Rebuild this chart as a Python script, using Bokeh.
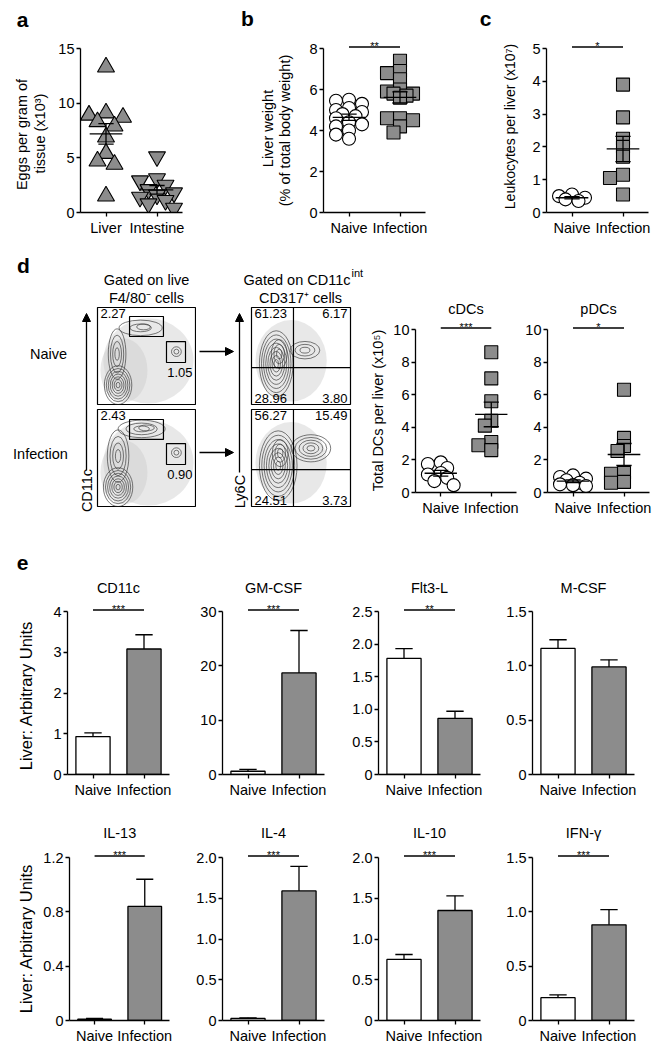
import math
from bokeh.plotting import figure
from bokeh.models import Range1d, FixedTicker, Label, Arrow, NormalHead, Span
from bokeh.layouts import row, column
from bokeh.embed import file_html
from bokeh.resources import INLINE

# =========================== data ===========================
GROUPS = ["Naive", "Infection"]

# (a) eggs per gram of tissue (x10^3)
A_CATS = ["Liver", "Intestine"]
A_LIVER = [13.3, 9.1, 8.9, 8.7, 8.3, 7.9, 6.9, 5.4, 4.7, 4.4, 1.5]
A_INTESTINE = [5.1, 3.1, 2.9, 2.5, 2.1, 1.8, 1.6, 1.4, 1.1, 0.8, 0.4]
A_YTICKS = [0, 5, 10, 15]
A_YLABELS = ["0", "5", "10", "15"]

# (b) liver weight (% of total body weight)
B_NAIVE = [5.5, 5.45, 5.3, 5.1, 5.0, 4.9, 4.8, 4.7, 4.6, 4.4, 4.3, 4.2, 4.0, 3.8, 3.6]
B_INFECTION = [7.4, 6.9, 6.8, 6.5, 6.0, 5.9, 5.8, 5.8, 5.7, 5.6, 4.6, 4.6, 4.5, 4.2, 3.9]
B_YTICKS = [0, 2, 4, 6, 8]
B_YLABELS = ["0", "2", "4", "6", "8"]

# (c) leukocytes per liver (x10^7)
C_NAIVE = [0.55, 0.5, 0.45, 0.4, 0.35]
C_INFECTION = [3.9, 2.9, 2.25, 2.0, 1.7, 1.15, 1.05, 0.55]
C_YTICKS = [0, 1, 2, 3, 4, 5]
C_YLABELS = ["0", "1", "2", "3", "4", "5"]

# (d) total DCs per liver (x10^5)
CDC_NAIVE = [1.85, 1.75, 1.5, 1.2, 1.1, 0.9, 0.7, 0.45]
CDC_INFECTION = [8.6, 7.0, 5.6, 4.4, 4.1, 3.1, 2.9, 2.6]
PDC_NAIVE = [1.05, 0.95, 0.85, 0.75, 0.6, 0.5, 0.45, 0.4]
PDC_INFECTION = [6.3, 3.35, 2.85, 2.55, 1.2, 1.15, 0.65, 0.6]
DC_YTICKS = [0, 2, 4, 6, 8, 10]
DC_YLABELS = ["0", "2", "4", "6", "8", "10"]

# (d) flow cytometry gate frequencies (%)
GATE_NAIVE = ["2.27", "1.05"]
GATE_INFECTION = ["2.43", "0.90"]
QUAD_NAIVE = ["61.23", "6.17", "28.96", "3.80"]        # UL, UR, LL, LR
QUAD_INFECTION = ["56.27", "15.49", "24.51", "3.73"]
# contour populations on a 0-100 scale: (centre x, centre y, half-width, half-height, levels)
POP_CD317_NAIVE = [(21, 20, 14, 20, 7), (20, 52, 9, 26, 4), (44, 79, 22, 8, 2),
                   (47, 80, 7, 3, 1), (80.5, 54.5, 5, 5, 2)]
POP_CD317_INFECTION = [(21, 20, 15, 20, 7), (21, 52, 11, 27, 4), (45, 80, 24, 9, 3),
                       (50, 81, 8, 3, 1), (80.5, 55.5, 5, 5, 2)]
CLOUD_CD317 = [(52, 45, 46, 44), (27, 35, 24, 33)]
POP_CD11B_NAIVE = [(25, 42, 17, 34, 8), (28, 52, 8, 15, 3), (54, 56, 15, 9, 3)]
POP_CD11B_INFECTION = [(27, 42, 19, 36, 8), (29, 55, 8, 14, 3), (60, 60, 20, 14, 5)]
CLOUD_CD11B = [(40, 45, 36, 42)]
GATES_NAIVE = [(32.7, 70.1, 67.3, 90.7), (70.4, 43.3, 89.8, 64.9)]
GATES_INFECTION = [(32.7, 69.1, 67.3, 89.7), (70.4, 43.3, 89.8, 64.9)]
QUAD_SPLIT = (42.4, 38.1)

# (e) qPCR, liver arbitrary units (mean and SEM)
E_GENES = ["CD11c", "GM-CSF", "Flt3-L", "M-CSF", "IL-13", "IL-4", "IL-10", "IFN-γ"]
E_MEAN_NAIVE = [0.93, 0.6, 1.78, 1.16, 0.01, 0.025, 0.75, 0.21]
E_MEAN_INFECTION = [3.08, 18.7, 0.86, 0.99, 0.84, 1.59, 1.35, 0.88]
E_SEM_NAIVE = [0.09, 0.35, 0.15, 0.08, 0.006, 0.008, 0.06, 0.025]
E_SEM_INFECTION = [0.35, 7.8, 0.11, 0.065, 0.2, 0.3, 0.18, 0.14]
E_SIG = ["***", "***", "**", "", "***", "***", "***", "***"]
E_YTICKS = [[0, 1, 2, 3, 4], [0, 10, 20, 30], [0, 0.5, 1, 1.5, 2, 2.5], [0, 0.5, 1, 1.5],
            [0, 0.4, 0.8, 1.2], [0, 0.5, 1, 1.5, 2], [0, 0.5, 1, 1.5, 2], [0, 0.5, 1, 1.5]]
E_YLABELS = [["0", "1", "2", "3", "4"], ["0", "10", "20", "30"],
             ["0", "0.5", "1.0", "1.5", "2.0", "2.5"], ["0", "0.5", "1.0", "1.5"],
             ["0", "0.4", "0.8", "1.2"], ["0", "0.5", "1.0", "1.5", "2.0"],
             ["0", "0.5", "1.0", "1.5", "2.0"], ["0", "0.5", "1.0", "1.5"]]

# =========================== style / helpers ===========================
FONT = "Liberation Sans"
FS = "14.5px"
GRAY = "#8c8c8c"
LW = 1.3
CAT_PX = 51.0
HALF_PI = math.pi / 2


def new_fig(box, frame, xr, yr, axes=True):
    x0, y0, x1, y1 = box
    fx0, fy0, fx1, fy1 = frame
    kw = {} if axes else dict(x_axis_location=None, y_axis_location=None)
    p = figure(width=x1 - x0, height=y1 - y0, output_backend="svg", toolbar_location=None,
               x_range=xr, y_range=yr,
               min_border_left=fx0 - x0, min_border_right=x1 - fx1,
               min_border_top=fy0 - y0, min_border_bottom=y1 - fy1, **kw)
    p.grid.visible = False
    p.outline_line_color = None
    p.background_fill_color = "white"
    p.border_fill_color = "white"
    return p, {"fx": fx0, "fb": fy1}


def lab(p, g, text, x, y, size=FS, align="center", baseline="middle", angle=0.0,
        bold=False, xdata=False):
    kw = dict(text=text, text_font=FONT, text_font_size=size, text_align=align,
              text_baseline=baseline, angle=angle, text_color="black",
              text_font_style="bold" if bold else "normal")
    if xdata:
        p.add_layout(Label(x=x, y=g["fb"] - y, x_units="data", y_units="screen", **kw))
    else:
        p.add_layout(Label(x=x - g["fx"], y=g["fb"] - y, x_units="screen", y_units="screen", **kw))


def chart(box, fx, zero, top_val, top_px, yticks, ylabels, xlabels):
    x0, y0, x1, y1 = box
    ppu = (zero - top_px) / top_val
    p, g = new_fig(box, (fx, y0, x1, zero),
                   Range1d(0.5, 0.5 + (x1 - fx) / CAT_PX),
                   Range1d(0, (zero - y0) / ppu))
    g["ppu"] = ppu
    g["top"] = top_val
    xa, ya = p.xaxis[0], p.yaxis[0]
    for ax in (xa, ya):
        ax.axis_line_color = "black"
        ax.axis_line_width = LW
        ax.major_tick_line_color = "black"
        ax.major_tick_line_width = LW
        ax.major_tick_in = 0
        ax.major_tick_out = 4
        ax.minor_tick_line_color = None
        ax.major_label_text_font = FONT
        ax.major_label_text_font_size = FS
        ax.major_label_text_color = "black"
    xa.ticker = FixedTicker(ticks=[1, 2])
    xa.major_label_overrides = {1: xlabels[0], 2: xlabels[1]}
    xa.bounds = (0.5, 2.5)
    xa.major_label_standoff = 3
    ya.ticker = FixedTicker(ticks=list(yticks))
    ya.major_label_overrides = {t: s for t, s in zip(yticks, ylabels)}
    ya.bounds = (0, top_val)
    ya.major_label_standoff = 2
    return p, g


def swarm(vals, ppu, size):
    order = sorted(range(len(vals)), key=lambda i: -vals[i])
    placed, offs = [], [0.0] * len(vals)
    step, mind = 0.5 * size, 0.6 * size
    for i in order:
        y = vals[i] * ppu
        best, best_d = 0.0, -1.0
        for k in (0, -1, 1, -2, 2):
            xo = k * step
            d = min([math.hypot(xo - px, y - py) for px, py in placed] or [1e9])
            if d >= mind:
                best = xo
                break
            if d > best_d:
                best, best_d = xo, d
        offs[i] = best
        placed.append((best, y))
    return offs


def dots(p, g, vals, xc, marker, fill, size):
    offs = swarm(vals, g["ppu"], size)
    p.scatter(x=[xc + o / CAT_PX for o in offs], y=vals, marker=marker, size=size,
              fill_color=fill, line_color="black", line_width=1.1)
    n = len(vals)
    m = sum(vals) / n
    s = math.sqrt(sum((v - m) ** 2 for v in vals) / (n - 1)) / math.sqrt(n)
    p.segment(x0=[xc - 0.32, xc, xc - 0.15, xc - 0.15], y0=[m, m - s, m - s, m + s],
              x1=[xc + 0.32, xc, xc + 0.15, xc + 0.15], y1=[m, m + s, m - s, m + s],
              line_color="black", line_width=LW)


def sig(p, g, stars):
    if not stars:
        return
    yv = g["top"] + 1.5 / g["ppu"]
    p.segment(x0=[1], y0=[yv], x1=[2], y1=[yv], line_color="black", line_width=LW)
    ypx = g["fb"] - yv * g["ppu"]
    lab(p, g, stars, 1.5, ypx - 1, size="11px", baseline="alphabetic", xdata=True)


def bars(p, mn, mi, sn, si):
    p.vbar(x=[1, 2], top=[mn, mi], bottom=0, width=0.67, fill_color=["white", GRAY],
           line_color="black", line_width=LW)
    p.segment(x0=[1, 0.83, 2, 1.83], y0=[mn, mn + sn, mi, mi + si],
              x1=[1, 1.17, 2, 2.17], y1=[mn + sn, mn + sn, mi + si, mi + si],
              line_color="black", line_width=LW)


def strip(box, frame_bottom=None):
    """Text-only panel; its frame bottom matches the neighbouring charts' x axis."""
    x0, y0, x1, y1 = box
    fb = y1 if frame_bottom is None else frame_bottom
    return new_fig(box, (x0, y0, x1, fb), Range1d(0, x1 - x0), Range1d(0, fb - y0), axes=False)


def arrow(p, g, xs, ys, xe, ye):
    x0, y1 = g["fx"], g["fb"]
    p.add_layout(Arrow(x_start=xs - x0, y_start=y1 - ys, x_end=xe - x0, y_end=y1 - ye,
                       line_color="black", line_width=1.3,
                       end=NormalHead(size=8, fill_color="black", line_color="black", line_width=1)))


def flow(box, frame, clouds, pops):
    p, g = new_fig(box, frame, Range1d(0, 100), Range1d(0, 100), axes=False)
    p.outline_line_color = "black"
    p.outline_line_width = 1.2
    for cx, cy, rx, ry in clouds:
        p.ellipse(x=[cx], y=[cy], width=[2 * rx], height=[2 * ry], fill_color="#cccccc",
                  fill_alpha=0.45, line_color=None)
    xs, ys, ws, hs = [], [], [], []
    for cx, cy, rx, ry, n in pops:
        for k in range(1, n + 1):
            f = k / n
            xs.append(cx); ys.append(cy); ws.append(2 * rx * f); hs.append(2 * ry * f)
    p.ellipse(x=xs, y=ys, width=ws, height=hs, fill_color=None, line_color="#3a3a3a",
              line_width=0.8, line_alpha=0.85)
    return p, g


def flow_text(p, text, x, y, align, baseline):
    p.add_layout(Label(x=x, y=y, text=text, text_font=FONT, text_font_size="13px",
                       text_align=align, text_baseline=baseline, text_color="black"))


# =========================== row 1 : a, b, c ===========================
sa, gsa = strip((0, 0, 52, 240), 212)
lab(sa, gsa, "a", 22, 19, size="21px", bold=True)
lab(sa, gsa, "Eggs per gram of", 21, 134, angle=HALF_PI)
lab(sa, gsa, "tissue (x10³)", 39, 133, angle=HALF_PI)
fa, ga = chart((52, 0, 215, 240), 80, 212, 15, 48, A_YTICKS, A_YLABELS, A_CATS)
dots(fa, ga, A_LIVER, 1, "triangle", GRAY, 17)
dots(fa, ga, A_INTESTINE, 2, "inverted_triangle", GRAY, 17)

sb, gsb = strip((215, 0, 295, 240), 212)
lab(sb, gsb, "b", 247, 18, size="21px", bold=True)
lab(sb, gsb, "Liver weight", 267, 128, angle=HALF_PI)
lab(sb, gsb, "(% of total body weight)", 284, 130, angle=HALF_PI)
fb, gb = chart((295, 0, 440, 240), 323, 212, 8, 48, B_YTICKS, B_YLABELS, GROUPS)
dots(fb, gb, B_NAIVE, 1, "circle", "white", 13)
dots(fb, gb, B_INFECTION, 2, "square", GRAY, 13)
sig(fb, gb, "**")

sc, gsc = strip((440, 0, 522, 240), 212)
lab(sc, gsc, "c", 485, 18, size="21px", bold=True)
lab(sc, gsc, "Leukocytes per liver (x10⁷)", 509, 126, size="14px", angle=HALF_PI)
fc, gc = chart((522, 0, 661, 240), 546, 212, 5, 48, C_YTICKS, C_YLABELS, GROUPS)
dots(fc, gc, C_NAIVE, 1, "circle", "white", 13)
dots(fc, gc, C_INFECTION, 2, "square", GRAY, 13)
sig(fc, gc, "*")

# =========================== row 2 : d ===========================
ts, gts = strip((0, 240, 365, 305))
lab(ts, gts, "d", 23, 265, size="21px", bold=True)
lab(ts, gts, "Gated on live", 146, 279)
lab(ts, gts, "F4/80⁻ cells", 146, 297)
lab(ts, gts, "Gated on CD11c", 350, 279, align="right")
lab(ts, gts, "int", 351, 272, size="11px", align="left")
lab(ts, gts, "CD317⁺ cells", 300, 297)

ls, gls = strip((0, 305, 96, 535))
lab(ls, gls, "Naive", 48, 353)
lab(ls, gls, "Infection", 40, 453)
arrow(ls, gls, 86, 470, 86, 313)
lab(ls, gls, "CD11c", 86, 490, angle=HALF_PI)

ms, gms = strip((196, 305, 249, 535))
arrow(ms, gms, 199, 351, 233, 351)
arrow(ms, gms, 199, 452, 233, 452)
arrow(ms, gms, 239, 472, 239, 313)
lab(ms, gms, "Ly6C", 239, 491, angle=HALF_PI)

f11, g11 = flow((96, 305, 196, 407), (97, 307, 195, 404), CLOUD_CD317, POP_CD317_NAIVE)
f21, g21 = flow((96, 407, 196, 535), (97, 409, 195, 506), CLOUD_CD317, POP_CD317_INFECTION)
for p, gates, pct in ((f11, GATES_NAIVE, GATE_NAIVE), (f21, GATES_INFECTION, GATE_INFECTION)):
    p.quad(left=[gt[0] for gt in gates], bottom=[gt[1] for gt in gates],
           right=[gt[2] for gt in gates], top=[gt[3] for gt in gates],
           fill_color=None, line_color="black", line_width=1.2)
    flow_text(p, pct[0], 3, 98, "left", "top")
    flow_text(p, pct[1], 97, gates[1][1] - 10, "right", "middle")
lab(f21, g21, "CD317", 145, 521)

f12, g12 = flow((249, 305, 365, 407), (251, 307, 350, 404), CLOUD_CD11B, POP_CD11B_NAIVE)
f22, g22 = flow((249, 407, 365, 535), (251, 409, 350, 506), CLOUD_CD11B, POP_CD11B_INFECTION)
for p, pct in ((f12, QUAD_NAIVE), (f22, QUAD_INFECTION)):
    p.add_layout(Span(location=QUAD_SPLIT[0], dimension="height", line_color="black", line_width=1.2))
    p.add_layout(Span(location=QUAD_SPLIT[1], dimension="width", line_color="black", line_width=1.2))
    flow_text(p, pct[0], 3, 98, "left", "top")
    flow_text(p, pct[1], 97, 98, "right", "top")
    flow_text(p, pct[2], 3, 2, "left", "bottom")
    flow_text(p, pct[3], 97, 2, "right", "bottom")
lab(f22, g22, "CD11b", 298, 521)

sd, gsd = strip((365, 240, 390, 535), 492)
lab(sd, gsd, "Total DCs per liver (x10⁵)", 377, 410, angle=HALF_PI)
fcd, gcd = chart((390, 240, 520, 535), 414, 492, 10, 329, DC_YTICKS, DC_YLABELS, GROUPS)
dots(fcd, gcd, CDC_NAIVE, 1, "circle", "white", 13)
dots(fcd, gcd, CDC_INFECTION, 2, "square", GRAY, 13)
sig(fcd, gcd, "***")
lab(fcd, gcd, "cDCs", 1.5, 308, xdata=True)

fpd, gpd = chart((520, 240, 661, 535), 547, 492, 10, 329, DC_YTICKS, DC_YLABELS, GROUPS)
dots(fpd, gpd, PDC_NAIVE, 1, "circle", "white", 13)
dots(fpd, gpd, PDC_INFECTION, 2, "square", GRAY, 13)
sig(fpd, gpd, "*")
lab(fpd, gpd, "pDCs", 1.5, 308, xdata=True)

# =========================== rows 3-4 : e ===========================
COL_BOX = [(40, 190), (190, 345), (345, 500), (500, 661)]
COL_FX = [67, 222, 378, 532]
ROW_GEOM = [dict(y0=535, y1=800, zero=774, top_px=611, title=587, ylab=695),
            dict(y0=800, y1=1046, zero=1020, top_px=857, title=832, ylab=938)]
erows = [[], []]
for r, rg in enumerate(ROW_GEOM):
    se, gse = strip((0, rg["y0"], 40, rg["y1"]), rg["zero"])
    lab(se, gse, "Liver: Arbitrary Units", 25, rg["ylab"], size="16.5px", angle=HALF_PI)
    if r == 0:
        lab(se, gse, "e", 22, 562, size="21px", bold=True)
    erows[r].append(se)
for i, gene in enumerate(E_GENES):
    r, c = divmod(i, 4)
    rg = ROW_GEOM[r]
    yt = E_YTICKS[i]
    p, g = chart((COL_BOX[c][0], rg["y0"], COL_BOX[c][1], rg["y1"]), COL_FX[c],
                 rg["zero"], yt[-1], rg["top_px"], yt, E_YLABELS[i], GROUPS)
    bars(p, E_MEAN_NAIVE[i], E_MEAN_INFECTION[i], E_SEM_NAIVE[i], E_SEM_INFECTION[i])
    sig(p, g, E_SIG[i])
    lab(p, g, gene, 1.5, rg["title"], xdata=True)
    erows[r].append(p)

# =========================== layout ===========================
flowgrid = row(ls, column(f11, f21), ms, column(f12, f22))
layout = column(
    row(sa, fa, sb, fb, sc, fc),
    row(column(ts, flowgrid), sd, fcd, fpd),
    row(*erows[0]),
    row(*erows[1]),
)

open("out.html", "w").write(file_html(layout, INLINE))
